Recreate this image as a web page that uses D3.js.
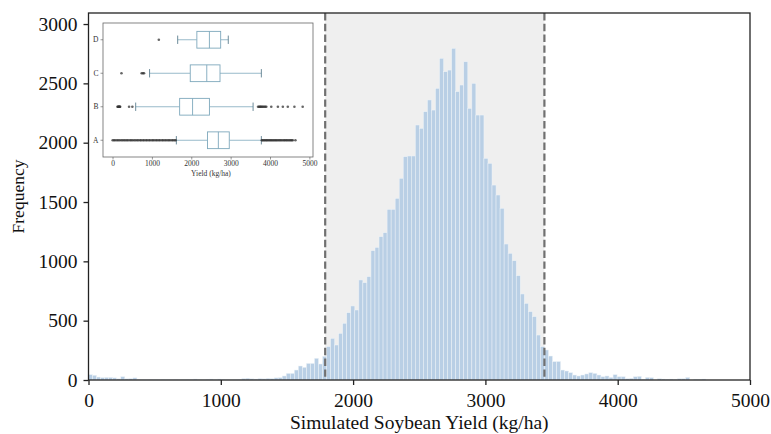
<!DOCTYPE html>
<html>
<head>
<meta charset="utf-8">
<script src="https://cdn.jsdelivr.net/npm/d3@7"></script>
<style>
  body { margin: 0; background: #fff; }
  svg { display: block; font-family: "Liberation Serif", "Times New Roman", serif; }
</style>
</head>
<body>
<svg id="chart" width="771" height="434"></svg>
<script>
// histogram: bins of binWidth kg/ha starting at 0
const binWidth = 30.5;
const counts = [
  45, 40, 25, 20, 22, 22, 18, 10, 28, 10, 12, 18, 6, 3, 2, 4, 3, 2, 5, 3,
  2, 4, 2, 3, 5, 4, 8, 3, 2, 6, 8, 5, 8, 6, 4, 3, 5, 6, 12, 15,
  10, 8, 12, 10, 14, 12, 18, 20, 34, 56, 56, 84, 118, 107, 140, 140, 183, 135, 200, 281,
  351, 295, 393, 478, 567, 624, 590, 843, 820, 871, 1090, 1118, 1208, 1241, 1438, 1438, 1531, 1700, 1882, 1888,
  1888, 2149, 2121, 2261, 2360, 2275, 2458, 2711, 2598, 2612, 2795, 2430, 2486, 2682, 2289, 2500, 2233, 2233, 1868, 1826,
  1643, 1559, 1447, 1146, 1068, 1005, 879, 725, 646, 576, 534, 379, 281, 253, 202, 155, 156, 84, 76, 62,
  42, 34, 42, 51, 62, 56, 42, 28, 34, 22, 45, 28, 28, 11, 14, 28, 31, 6, 22, 20,
  0, 11, 8, 6, 8, 6, 11, 11, 22, 0, 6, 5, 8
];
const xTicks = [0, 1000, 2000, 3000, 4000, 5000];
const yTicks = [0, 500, 1000, 1500, 2000, 2500, 3000];
const bandLimits = [1789, 3446];

// inset box plot (order as drawn top to bottom)
const groups = ["D", "C", "B", "A"];
const whiskerLow = [1655, 941, 588, 1621];
const q1 = [2142, 1974, 1705, 2411];
const median = [2461, 2394, 2033, 2688];
const q3 = [2747, 2730, 2461, 2965];
const whiskerHigh = [2940, 3780, 3570, 3780];
const outliersD = [1176];
const outliersC = [227, 740, 772, 800];
const outliersB = [126, 140, 152, 163, 175, 186, 193, 420, 504,
  3696, 3722, 3745, 3763, 3781, 3805, 3828, 3856, 3880, 3906,
  4032, 4200, 4326, 4452, 4620, 4830];
const outliersA = [3, 38, 71, 112, 148, 183, 224, 257, 296, 331, 368, 402, 445, 478, 512, 553,
  588, 627, 659, 702, 731, 774, 806, 848, 879, 921, 952, 995, 1027, 1063, 1104, 1137,
  1176, 1208, 1252, 1283, 1322, 1357, 1398, 1431, 1466, 1507, 1538, 1576, 1603,
  3792, 3814, 3843, 3868, 3897, 3921, 3948, 3977, 4004, 4031, 4058, 4086, 4113, 4142,
  4168, 4197, 4229, 4258, 4287, 4318, 4351, 4377, 4409, 4436, 4468, 4497, 4526, 4552, 4578, 4645];
const outliers = [outliersD, outliersC, outliersB, outliersA];
const insetTicks = [0, 1000, 2000, 3000, 4000, 5000];

const svg = d3.select("#chart");

const x = d3.scaleLinear().domain([0, 5000]).range([88.5, 750]);
const y = d3.scaleLinear().domain([0, 3093]).range([380, 13]);

// shaded interval
svg.append("rect")
  .attr("x", x(bandLimits[0]))
  .attr("y", y.range()[1])
  .attr("width", x(bandLimits[1]) - x(bandLimits[0]))
  .attr("height", y.range()[0] - y.range()[1])
  .attr("fill", "#efefef");

// bars
const bw = x(binWidth) - x(0);
svg.append("g")
  .selectAll("rect")
  .data(counts)
  .join("rect")
  .attr("x", (d, i) => x(i * binWidth))
  .attr("y", d => y(d))
  .attr("width", bw)
  .attr("height", d => y(0) - y(d))
  .attr("fill", "#b9cfe5")
  .attr("stroke", "#eef3f8")
  .attr("stroke-width", 0.5);

// dashed limits
svg.append("g")
  .selectAll("line")
  .data(bandLimits)
  .join("line")
  .attr("x1", d => x(d)).attr("x2", d => x(d))
  .attr("y1", y.range()[1]).attr("y2", y.range()[0])
  .attr("stroke", "#707070")
  .attr("stroke-width", 2.2)
  .attr("stroke-dasharray", "7.4,3.4");

// axes
const xAxis = svg.append("g")
  .attr("transform", `translate(0,${y(0)})`)
  .call(d3.axisBottom(x).tickValues(xTicks).tickSize(5).tickPadding(8).tickFormat(d3.format("d")));
const yAxis = svg.append("g")
  .attr("transform", `translate(${x(0)},0)`)
  .call(d3.axisLeft(y).tickValues(yTicks).tickSize(5).tickPadding(6).tickFormat(d3.format("d")));
[xAxis, yAxis].forEach(a => {
  a.select(".domain").remove();
  a.selectAll(".tick line").attr("stroke", "#222").attr("stroke-width", 1.3);
  a.selectAll(".tick text")
    .attr("fill", "#111")
    .style("font-size", "19.5px")
    .style("font-family", "'Liberation Serif', serif");
});

// frame
svg.append("rect")
  .attr("x", x(0)).attr("y", y.range()[1])
  .attr("width", x(5000) - x(0))
  .attr("height", y.range()[0] - y.range()[1])
  .attr("fill", "none")
  .attr("stroke", "#222")
  .attr("stroke-width", 1.3);

svg.append("text")
  .attr("x", (x(0) + x(5000)) / 2)
  .attr("y", 429)
  .attr("text-anchor", "middle")
  .style("font-size", "19.5px")
  .attr("fill", "#111")
  .text("Simulated Soybean Yield (kg/ha)");

svg.append("text")
  .attr("transform", `translate(24,${(y.range()[0] + y.range()[1]) / 2}) rotate(-90)`)
  .attr("text-anchor", "middle")
  .style("font-size", "17.5px")
  .attr("fill", "#111")
  .text("Frequency");

// ---- inset box plot ----
const inset = svg.append("g");
const ix = d3.scaleLinear().domain([-242, 5092]).range([103, 313]);
const iy = d3.scaleBand().domain(groups).range([23, 157]);
const boxColor = "#7ea8bc";

inset.append("rect")
  .attr("x", 103).attr("y", 23)
  .attr("width", 210).attr("height", 134)
  .attr("fill", "#fff")
  .attr("stroke", "#666")
  .attr("stroke-width", 0.8);

groups.forEach((g, i) => {
  const cy = iy(g) + iy.bandwidth() / 2;
  const h = iy.bandwidth() * 0.5;
  const row = inset.append("g");
  // whiskers
  row.append("line")
    .attr("x1", ix(whiskerLow[i])).attr("x2", ix(q1[i]))
    .attr("y1", cy).attr("y2", cy)
    .attr("stroke", boxColor).attr("stroke-width", 0.8);
  row.append("line")
    .attr("x1", ix(q3[i])).attr("x2", ix(whiskerHigh[i]))
    .attr("y1", cy).attr("y2", cy)
    .attr("stroke", boxColor).attr("stroke-width", 0.8);
  [whiskerLow[i], whiskerHigh[i]].forEach(v => {
    row.append("line")
      .attr("x1", ix(v)).attr("x2", ix(v))
      .attr("y1", cy - h / 4).attr("y2", cy + h / 4)
      .attr("stroke", "#5d7f8f").attr("stroke-width", 0.9);
  });
  row.append("rect")
    .attr("x", ix(q1[i])).attr("y", cy - h / 2)
    .attr("width", ix(q3[i]) - ix(q1[i])).attr("height", h)
    .attr("fill", "#fff")
    .attr("stroke", boxColor).attr("stroke-width", 0.9);
  row.append("line")
    .attr("x1", ix(median[i])).attr("x2", ix(median[i]))
    .attr("y1", cy - h / 2).attr("y2", cy + h / 2)
    .attr("stroke", boxColor).attr("stroke-width", 0.9);
  row.selectAll("circle")
    .data(outliers[i])
    .join("circle")
    .attr("cx", d => ix(d))
    .attr("cy", cy)
    .attr("r", 1.3)
    .attr("fill", "#333")
    .attr("fill-opacity", 0.75);
});

const ixAxis = inset.append("g")
  .attr("transform", "translate(0,157)")
  .call(d3.axisBottom(ix).tickValues(insetTicks).tickSize(2.5).tickPadding(1.5).tickFormat(d3.format("d")));
const iyAxis = inset.append("g")
  .attr("transform", "translate(103,0)")
  .call(d3.axisLeft(iy).tickSize(2.5).tickPadding(2));
[ixAxis, iyAxis].forEach(a => {
  a.select(".domain").remove();
  a.selectAll(".tick line").attr("stroke", "#555").attr("stroke-width", 0.6);
  a.selectAll(".tick text")
    .attr("fill", "#333")
    .style("font-size", "7.5px")
    .style("font-family", "'Liberation Serif', serif");
});

inset.append("text")
  .attr("x", ix(2500))
  .attr("y", 176)
  .attr("text-anchor", "middle")
  .style("font-size", "7.5px")
  .attr("fill", "#333")
  .text("Yield (kg/ha)");
</script>
</body>
</html>
